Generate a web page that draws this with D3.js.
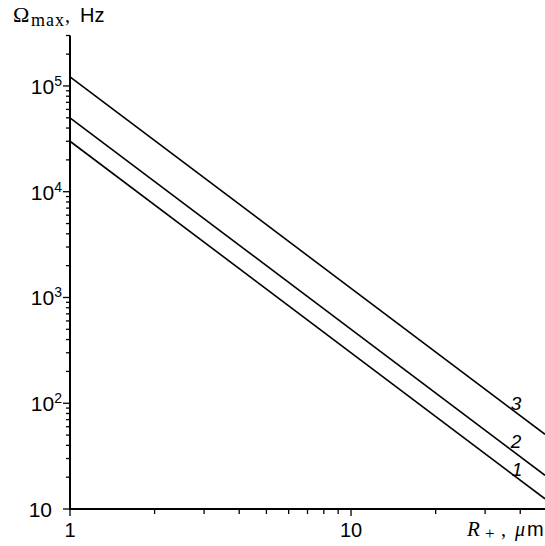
<!DOCTYPE html>
<html><head><meta charset="utf-8">
<script src="https://cdn.jsdelivr.net/npm/d3@7/dist/d3.min.js"></script>
<style>body{margin:0;background:#fff}svg{display:block}</style>
</head><body>
<script>
// Data (log-log, slope -2)
const radii = [1, 49];                // R+, μm
const curve1 = [3.0e4, 12.5];         // Ω_max, Hz
const curve2 = [5.0e4, 20.8];
const curve3 = [1.22e5, 50.8];
const curveNames = ["1", "2", "3"];
const yTickLabels = ["10", "2", "3", "4", "5"]; // exponents (10 shown plain)
const xTickLabels = ["1", "10"];

const W = 545, H = 546;
const svg = d3.select("body").append("svg").attr("width", W).attr("height", H);
const x = d3.scaleLog().domain([1, 49]).range([70, 545]);
const y = d3.scaleLog().domain([10, 3e5]).range([509, 35.5]);

const sans = "Liberation Sans, Arial, sans-serif";
const serif = "Liberation Serif, Times New Roman, serif";

// axes
const g = svg.append("g");
g.append("line").attr("x1", x(1)).attr("x2", W).attr("y1", y(10)).attr("y2", y(10)).attr("stroke", "#000").attr("stroke-width", 2);
g.append("line").attr("x1", x(1)).attr("x2", x(1)).attr("y1", y(10)+1).attr("y2", y(3e5)).attr("stroke", "#000").attr("stroke-width", 2);

// y ticks
const yTicks = [];
for (let e = 1; e <= 5; e++) for (let m = 1; m <= 9; m++) { const v = m * Math.pow(10, e); if (v <= 3e5) yTicks.push({v, major: m === 1}); }
g.selectAll(".yt").data(yTicks).enter().append("line")
  .attr("x1", d => x(1) - (d.major ? 7 : 4)).attr("x2", x(1))
  .attr("y1", d => y(d.v)).attr("y2", d => y(d.v)).attr("stroke", "#000").attr("stroke-width", 1.3);
// y tick labels
const yMaj = [10, 100, 1000, 1e4, 1e5];
yMaj.forEach((v, i) => {
  const t = g.append("text").attr("y", y(v) + 8).attr("text-anchor", "end")
    .attr("font-family", sans).attr("font-size", 21);
  if (i === 0) { t.attr("x", 52).text(yTickLabels[0]); }
  else {
    t.attr("x", 62);
    t.append("tspan").text("10");
    t.append("tspan").attr("font-size", 14).attr("dy", -8).text(yTickLabels[i]);
  }
});

// x ticks
const xTicks = [];
for (let e = 0; e <= 1; e++) for (let m = 1; m <= 9; m++) { const v = m * Math.pow(10, e); if (v <= 49) xTicks.push({v, major: m === 1}); }
g.selectAll(".xt").data(xTicks).enter().append("line")
  .attr("x1", d => x(d.v)).attr("x2", d => x(d.v))
  .attr("y1", y(10)).attr("y2", d => y(10) + (d.major ? 7 : 5)).attr("stroke", "#000").attr("stroke-width", 1.3);
[1, 10].forEach((v, i) => {
  g.append("text").attr("x", x(v)).attr("y", 537).attr("text-anchor", "middle")
    .attr("font-family", sans).attr("font-size", 20).text(xTickLabels[i]);
});

// curves
const line = d3.line().x(d => x(d[0])).y(d => y(d[1]));
[curve1, curve2, curve3].forEach(c => {
  svg.append("path").datum(radii.map((r, i) => [r, c[i]])).attr("d", line)
    .attr("fill", "none").attr("stroke", "#000").attr("stroke-width", 1.6);
});
// curve labels
const labPos = [[517, 476], [516, 448], [516, 410]];
curveNames.forEach((n, i) => {
  svg.append("text").attr("x", labPos[i][0]).attr("y", labPos[i][1]).attr("text-anchor", "middle")
    .attr("font-family", sans).attr("font-style", "italic").attr("font-size", 19).text(n);
});

// axis titles
const yt = svg.append("g");
yt.append("text").attr("x", 13).attr("y", 22).attr("font-family", serif).attr("font-size", 22).text("Ω");
yt.append("text").attr("x", 31).attr("y", 26).attr("font-family", serif).attr("font-size", 18).attr("textLength", 33).text("max");
yt.append("text").attr("x", 65).attr("y", 22).attr("font-family", serif).attr("font-size", 20).text(",");
yt.append("text").attr("x", 80).attr("y", 22).attr("font-family", sans).attr("font-size", 20).text("Hz");

const xt = svg.append("g");
xt.append("text").attr("x", 467).attr("y", 536).attr("font-family", serif).attr("font-style", "italic").attr("font-size", 21).text("R");
xt.append("text").attr("x", 485).attr("y", 539).attr("font-family", serif).attr("font-size", 17).text("+");
xt.append("text").attr("x", 501).attr("y", 536).attr("font-family", serif).attr("font-size", 20).text(",");
xt.append("text").attr("x", 515).attr("y", 536).attr("font-family", serif).attr("font-style", "italic").attr("font-size", 20).text("μ");
xt.append("text").attr("x", 527).attr("y", 536).attr("font-family", sans).attr("font-size", 20).text("m");
</script>
</body></html>
